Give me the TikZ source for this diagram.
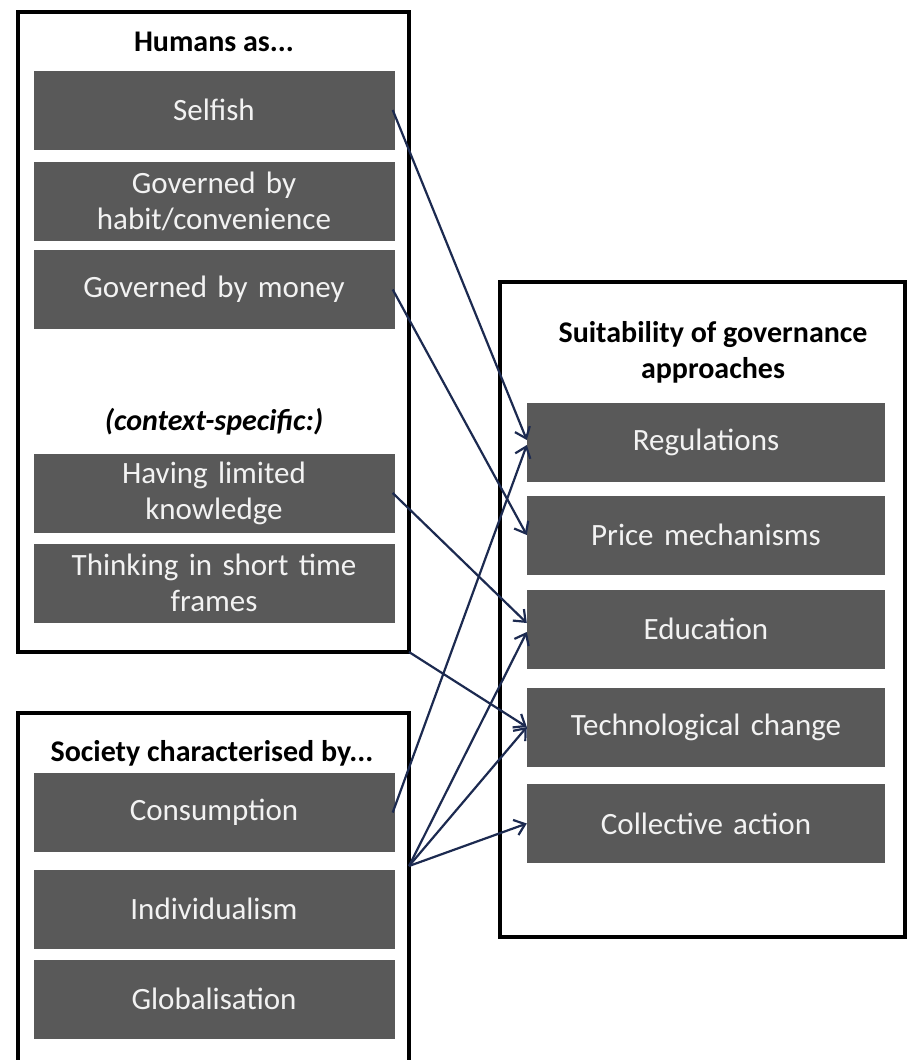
\documentclass[tikz,border=0pt]{standalone}
\usepackage{fontspec}
\setmainfont{Carlito}
\usetikzlibrary{arrows.meta}
\definecolor{boxgray}{RGB}{89,89,89}
\definecolor{boxtext}{RGB}{242,242,242}
\definecolor{arrowblue}{RGB}{28,42,80}
\tikzset{
  itembox/.style={fill=boxgray,text=boxtext,minimum width=361pt,minimum height=79pt,
    text width=345pt,align=center,inner sep=0pt,font=\fontsize{31}{36}\selectfont},
  heading/.style={align=center,font=\bfseries\fontsize{30}{36}\selectfont},
  linkarrow/.style={arrowblue,line width=2.2pt,-{Straight Barb[length=10pt,width=16pt]}},
  groupframe/.style={line width=3.5pt}
}
\begin{document}
\begin{tikzpicture}[x=1pt,y=-1pt]
            \useasboundingbox[fill=white] (0,0) rectangle (909,1060);
            % group frames
            \draw[groupframe] (18,12) rectangle (409,652);
            \draw[groupframe] (18,1060) -- (18,713) -- (409,713) -- (409,1060);
            \draw[groupframe] (500,282) rectangle (905,937);
            \coordinate (hcorner) at (409,652);
            \coordinate (sfan) at (409,866);
            % humans
            \node[heading] (htitle) at (214,42) {Humans as...};
            \node[itembox] (selfish) at (214,110) {Selfish};
            \node[itembox] (habit) at (214,201.5) {Governed by\\habit/convenience};
            \node[itembox] (money) at (214,289.5) {Governed by money};
            \node[heading,font=\bfseries\itshape\fontsize{30}{36}\selectfont] (context) at (214,422) {(context-specific:)};
            \node[itembox] (knowledge) at (214,493) {Having limited\\knowledge};
            \node[itembox] (shortterm) at (214,583) {Thinking in short time\\frames};
            % society
            \node[heading] (stitle) at (212,753) {Society characterised by...};
            \node[itembox] (consumption) at (214,812.5) {Consumption};
            \node[itembox] (individual) at (214,909) {Individualism};
            \node[itembox] (global) at (214,999) {Globalisation};
            % governance approaches
            \node[heading] (gtitle) at (713,352) {Suitability of governance\\approaches};
            \node[itembox,minimum width=358pt] (regul) at (706,442.5) {Regulations};
            \node[itembox,minimum width=358pt] (price) at (706,535) {Price mechanisms};
            \node[itembox,minimum width=358pt] (educ) at (706,629) {Education};
            \node[itembox,minimum width=358pt] (tech) at (706,727) {Technological change};
            \node[itembox,minimum width=358pt] (collect) at (706,823.5) {Collective action};
            % links
            \draw[linkarrow] ([xshift=-2pt]selfish.east) -- ([yshift=2.5pt]regul.west);
            \draw[linkarrow] ([xshift=-2pt]money.east) -- (price.west);
            \draw[linkarrow] ([xshift=-2pt]knowledge.east) -- ([yshift=6pt]educ.west);
            \draw[linkarrow] (hcorner) -- (tech.west);
            \draw[linkarrow] ([xshift=-2pt]consumption.east) -- ([yshift=-2.5pt]regul.west);
            \draw[linkarrow] (sfan) -- ([yshift=-3pt]educ.west);
            \draw[linkarrow] (sfan) -- (tech.west);
            \draw[linkarrow] (sfan) -- (collect.west);
\end{tikzpicture}
\end{document}
